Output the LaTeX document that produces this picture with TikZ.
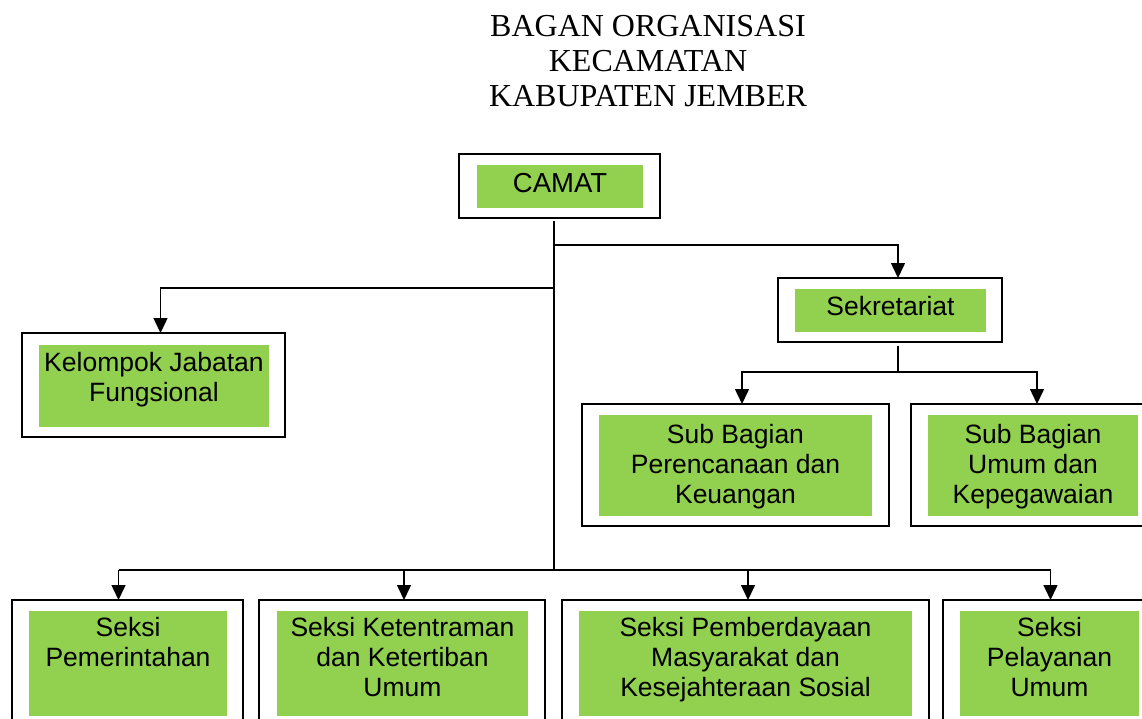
\documentclass[tikz,border=0pt]{standalone}
\usepackage{fontspec}
\setmainfont{Liberation Sans}
\newfontfamily\titlefont{Liberation Serif}
\usetikzlibrary{arrows.meta}
\definecolor{boxgreen}{RGB}{146,208,80}
\begin{document}
\begin{tikzpicture}[x=1pt,y=-1pt,
  outerbox/.style={draw=black, line width=1.6pt, inner sep=0pt, outer sep=0pt},
  innerbox/.style={fill=boxgreen, draw=none, inner sep=0pt, outer sep=0pt},
  lbl/.style={anchor=north, inner sep=0pt, align=center, font=\fontsize{26.5}{30}\selectfont},
  conn/.style={draw=black, line width=1.5pt},
  arr/.style={conn, -{Triangle[length=15pt,width=14pt]}}
]
\useasboundingbox (0,0) rectangle (1142,719);
\clip (0,0) rectangle (1142,719);

% title
\node[anchor=north, inner sep=0pt, align=center, font=\titlefont\fontsize{32}{35}\selectfont] (title) at (648,15.5)
  {BAGAN ORGANISASI\\KECAMATAN\\KABUPATEN JEMBER};

% CAMAT
\node[outerbox, line width=2.4pt, minimum width=201pt, minimum height=64pt] (camat) at (559.5,186) {};
\node[innerbox, minimum width=166pt, minimum height=43pt] (camatin) at (560,186.5) {};
\node[lbl, font=\fontsize{27.5}{30}\selectfont] (camattx) at (560,173) {CAMAT};

% Sekretariat
\node[outerbox, minimum width=224pt, minimum height=64pt] (sek) at (890,310) {};
\node[innerbox, minimum width=191pt, minimum height=43pt] (sekin) at (890.5,310.5) {};
\node[lbl] (sektx) at (890.5,296) {Sekretariat};

% Kelompok Jabatan Fungsional
\node[outerbox, minimum width=263pt, minimum height=104pt] (kel) at (153.5,385) {};
\node[innerbox, minimum width=230pt, minimum height=82pt] (kelin) at (154,386) {};
\node[lbl] (keltx) at (154,352.5) {Kelompok Jabatan\\Fungsional};

% Sub Bagian Perencanaan dan Keuangan
\node[outerbox, minimum width=307pt, minimum height=122pt] (sbp) at (735.5,465) {};
\node[innerbox, minimum width=273pt, minimum height=101pt] (sbpin) at (735.5,465.5) {};
\node[lbl] (sbptx) at (735.5,424) {Sub Bagian\\Perencanaan dan\\Keuangan};

% Sub Bagian Umum dan Kepegawaian
\node[outerbox, minimum width=244pt, minimum height=122pt] (sbu) at (1033,465) {};
\node[innerbox, minimum width=210pt, minimum height=101pt] (sbuin) at (1033,465.5) {};
\node[lbl] (sbutx) at (1033,424) {Sub Bagian\\Umum dan\\Kepegawaian};

% Bottom row
\node[outerbox, minimum width=231pt, minimum height=130pt] (sp) at (127.5,665) {};
\node[innerbox, minimum width=198pt, minimum height=105pt] (spin) at (128,663.5) {};
\node[lbl] (sptx) at (128,617.5) {Seksi\\Pemerintahan};

\node[outerbox, minimum width=286pt, minimum height=130pt] (sk) at (402,665) {};
\node[innerbox, minimum width=251pt, minimum height=105pt] (skin) at (402.5,663.5) {};
\node[lbl] (sktx) at (402.5,617.5) {Seksi Ketentraman\\dan Ketertiban\\Umum};

\node[outerbox, minimum width=367pt, minimum height=130pt] (spm) at (745.5,665) {};
\node[innerbox, minimum width=333pt, minimum height=105pt] (spmin) at (745.5,663.5) {};
\node[lbl] (spmtx) at (745.5,617.5) {Seksi Pemberdayaan\\Masyarakat dan\\Kesejahteraan Sosial};

\node[outerbox, minimum width=213pt, minimum height=130pt] (spl) at (1049.5,665) {};
\node[innerbox, minimum width=179pt, minimum height=105pt] (splin) at (1049.5,663.5) {};
\node[lbl] (spltx) at (1049.5,617.5) {Seksi\\Pelayanan\\Umum};

% junction coordinates
\coordinate (tr) at (554,570);
\coordinate (jr) at (554,245);
\coordinate (jrs) at (898,245);
\coordinate (jl) at (554,288);
\coordinate (jlk) at (160.5,288);
\coordinate (sj) at (898,372);
\coordinate (sjl) at (742,372);
\coordinate (sjr) at (1037,372);
\coordinate (b1) at (118.5,570);
\coordinate (b2) at (404,570);
\coordinate (b3) at (748,570);
\coordinate (b4) at (1050.5,570);

% connectors
\draw[conn] ([yshift=-3pt]camat.south -| tr) -- (tr);
\draw[arr] (jr) -- (jrs) -- (jrs |- sek.north);
\draw[arr] (jl) -- (jlk) -- (jlk |- kel.north);
\draw[conn] ([yshift=-4pt]sek.south -| sj) -- (sj);
\draw[arr] (sj) -- (sjl) -- (sjl |- sbp.north);
\draw[arr] (sj) -- (sjr) -- (sjr |- sbu.north);
\draw[conn] (b1) -- (b4);
\draw[arr] (b1) -- (b1 |- sp.north);
\draw[arr] (b2) -- (b2 |- sk.north);
\draw[arr] (b3) -- (b3 |- spm.north);
\draw[arr] (b4) -- (b4 |- spl.north);
\end{tikzpicture}
\end{document}
